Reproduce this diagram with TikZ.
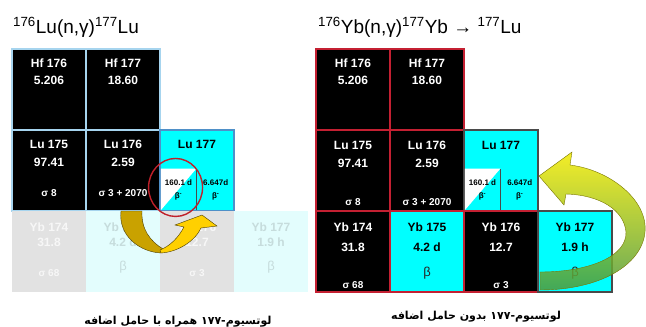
\documentclass[tikz,border=0pt]{standalone}
\usepackage{fontspec}
\setmainfont{Liberation Sans}
\newfontfamily\farsi[Script=Arabic]{DejaVu Sans}
\TeXXeTstate=1
\usetikzlibrary{positioning}
\definecolor{cellblue}{HTML}{A6D4EE}
\definecolor{lublue}{HTML}{4F90C8}
\definecolor{cellred}{HTML}{C42032}
\definecolor{edgegray}{HTML}{4A4A4A}
\definecolor{nuccyan}{HTML}{00FFFF}
\definecolor{fadegray}{HTML}{E2E2E2}
\definecolor{fadecyan}{HTML}{E3FDFD}
\definecolor{fadetext}{HTML}{C6DCDC}
\definecolor{ringred}{HTML}{C0202A}
\definecolor{golddark}{HTML}{C9A200}
\definecolor{goldlight}{HTML}{FFD000}
\definecolor{arrowedge}{HTML}{4A3C00}
\definecolor{arrowyel}{HTML}{F2EA00}
\definecolor{arrowgrn}{HTML}{4E9A3C}
\tikzset{
    %Define style for the chart cells
    nuc/.style={
           rectangle,
           minimum width=74pt,
           minimum height=81pt,
           inner sep=0pt,
           outer sep=0pt,
           line width=1.2pt},
    blackL/.style={nuc, fill=black, draw=cellblue},
    cyanL/.style={nuc, fill=nuccyan, draw=lublue},
    fgrayL/.style={nuc, fill=fadegray},
    fcyanL/.style={nuc, fill=fadecyan},
    blackR/.style={nuc, fill=black, draw=cellred},
    cyanR/.style={nuc, fill=nuccyan, draw=cellred},
    %Define style for the cell texts
    big/.style={align=center, inner sep=0pt,
           font=\fontsize{12}{18}\selectfont\bfseries},
    wbig/.style={big, text=white},
    kbig/.style={big, text=black},
    gbig/.style={big, text=white!97!black},
    fbig/.style={big, text=fadetext},
    wsig/.style={inner sep=0pt, text=white,
           font=\fontsize{10}{12}\selectfont\bfseries},
    gsig/.style={wsig, text=white!97!black},
    kbeta/.style={inner sep=0pt, text=black!85,
           font=\fontsize{13}{15}\selectfont},
    fbeta/.style={kbeta, text=fadetext},
    %Define style for the split Lu 177 box
    subbox/.style={
           rectangle,
           minimum width=35.5pt,
           minimum height=41.5pt,
           inner sep=0pt,
           fill=nuccyan,
           align=center,
           font=\fontsize{8}{13}\selectfont\bfseries,
           path picture={\fill[white] (path picture bounding box.north west)
               -- (path picture bounding box.north east)
               -- (path picture bounding box.south west) -- cycle;}},
    subcol/.style={
           rectangle,
           minimum width=38pt,
           minimum height=41.5pt,
           inner sep=0pt,
           align=center,
           font=\fontsize{8}{13}\selectfont\bfseries},
    subline/.style={draw=edgegray, line width=0.8pt},
    ring/.style={draw=ringred, line width=1.4pt},
    %Define style for the curved arrows
    darkswoosh/.style={fill=golddark, draw=arrowedge, line width=0.4pt},
    lightswoosh/.style={fill=goldlight, draw=arrowedge, line width=0.4pt},
    bigswoosh/.style={top color=arrowyel, bottom color=arrowgrn,
           fill opacity=0.85, draw=arrowyel!50!black, line width=0.4pt},
    ttl/.style={inner sep=0pt, font=\fontsize{19}{21}\selectfont},
    farsicap/.style={inner sep=0pt, font=\farsi\bfseries\fontsize{11}{13}\selectfont}
}
\begin{document}
\begin{tikzpicture}[x=1pt, y=-1pt]
 \useasboundingbox (0,0) rectangle (646,327);

 % left chart
 \node[blackL] (hf176L) at (49,89.5) {};
 \node[blackL, right=0pt of hf176L] (hf177L) {};
 \node[blackL, below=0pt of hf176L] (lu175L) {};
 \node[blackL, right=0pt of lu175L] (lu176L) {};
 \node[cyanL, right=0pt of lu176L] (lu177L) {};
 \node[fgrayL, below=0pt of lu175L] (yb174L) {};
 \node[fcyanL, right=0pt of yb174L] (yb175L) {};
 \node[fgrayL, right=0pt of yb175L] (yb176L) {};
 \node[fcyanL, right=0pt of yb176L] (yb177L) {};

 \node[ttl, anchor=base west] (ttlL) at ([shift={(1pt,16pt)}]hf176L.north west)
   {\textsuperscript{176}Lu(n,γ)\textsuperscript{177}Lu};

 \node[wbig, below=9.5pt of hf176L.north] {Hf 176\\[-1pt]5.206};
 \node[wbig, below=9.5pt of hf177L.north] {Hf 177\\[-1pt]18.60};
 \node[wbig, below=10pt of lu175L.north] {Lu 175\\97.41};
 \node[wbig, below=10pt of lu176L.north] {Lu 176\\2.59};
 \node[kbig, below=10pt of lu177L.north] {Lu 177};
 \node[wsig, above=14.5pt of lu175L.south] {σ 8};
 \node[wsig, above=14.5pt of lu176L.south] {σ 3 + 2070};
 \node[gbig, below=12pt of yb174L.north] {Yb 174\\[-3pt]31.8};
 \node[fbig, below=12pt of yb175L.north] {Yb 175\\[-3pt]4.2 d};
 \node[gbig, below=12pt of yb176L.north] {Yb 176\\[-3pt]12.7};
 \node[fbig, below=12pt of yb177L.north] {Yb 177\\[-3pt]1.9 h};
 \node[gsig, above=15.5pt of yb174L.south] {σ 68};
 \node[gsig, above=15.5pt of yb176L.south] {σ 3};
 \node[fbeta, above=18.5pt of yb175L.south] {β};
 \node[fbeta, above=18.5pt of yb177L.south] {β};

 \node[subbox, anchor=south west] (m177L) at ([shift={(0.6pt,0.6pt)}]lu177L.south west)
   {160.1 d\\β\textsuperscript{-}};
 \node[subcol, right=0pt of m177L] (g177L) {6.647d\\β\textsuperscript{-}};
 \draw[subline] (m177L.north east) -- (m177L.south east);
 \draw[ring] ([shift={(-3pt,2pt)}]m177L.center) ellipse [x radius=27pt, y radius=29pt];

 \path[darkswoosh] (121,211) .. controls (118,236) and (140,252) .. (161,253)
   -- (163,249) .. controls (150,241) and (141,229) .. (142,211) -- cycle;
 \path[lightswoosh] (161,253) .. controls (178,252) and (195,241) .. (201,228)
   -- (217,226) -- (202,215) -- (175,225) -- (184,227)
   .. controls (178,238) and (170,246) .. (160,250) -- cycle;

 % right chart
 \node[blackR] (hf176R) at (353,89.5) {};
 \node[blackR, right=0pt of hf176R] (hf177R) {};
 \node[blackR, below=0pt of hf176R] (lu175R) {};
 \node[blackR, right=0pt of lu175R] (lu176R) {};
 \node[cyanR, draw=edgegray, right=0pt of lu176R] (lu177R) {};
 \node[blackR, below=0pt of lu175R] (yb174R) {};
 \node[cyanR, right=0pt of yb174R] (yb175R) {};
 \node[blackR, right=0pt of yb175R] (yb176R) {};
 \node[cyanR, draw=edgegray, right=0pt of yb176R] (yb177R) {};

 \node[ttl, anchor=base west] (ttlR) at ([shift={(2pt,16pt)}]hf176R.north west)
   {\textsuperscript{176}Yb(n,γ)\textsuperscript{177}Yb → \textsuperscript{177}Lu};

 \node[wbig, below=9.5pt of hf176R.north] {Hf 176\\[-1pt]5.206};
 \node[wbig, below=9.5pt of hf177R.north] {Hf 177\\[-1pt]18.60};
 \node[wbig, below=11pt of lu175R.north] {Lu 175\\97.41};
 \node[wbig, below=11pt of lu176R.north] {Lu 176\\2.59};
 \node[kbig, below=11pt of lu177R.north] {Lu 177};
 \node[wsig, above=5.5pt of lu175R.south] {σ 8};
 \node[wsig, above=5.5pt of lu176R.south] {σ 3 + 2070};
 \node[wbig, below=12pt of yb174R.north] {Yb 174\\[2pt]31.8};
 \node[kbig, below=12pt of yb175R.north] {Yb 175\\[2pt]4.2 d};
 \node[wbig, below=12pt of yb176R.north] {Yb 176\\[2pt]12.7};
 \node[kbig, below=12pt of yb177R.north] {Yb 177\\[2pt]1.9 h};
 \node[wsig, above=3.5pt of yb174R.south] {σ 68};
 \node[wsig, above=3.5pt of yb176R.south] {σ 3};
 \node[kbeta, above=12.5pt of yb175R.south] {β};
 \node[kbeta, above=12.5pt of yb177R.south] {β};

 \node[subbox, anchor=south west] (m177R) at ([shift={(0.6pt,0.6pt)}]lu177R.south west)
   {160.1 d\\β\textsuperscript{-}};
 \node[subcol, right=0pt of m177R] (g177R) {6.647d\\β\textsuperscript{-}};
 \draw[subline] (m177R.north east) -- (m177R.south east);

 \path[bigswoosh] (539,176) -- (572,152) -- (570,165)
   .. controls (610,170) and (648,200) .. (645,232)
   .. controls (642,265) and (600,290) .. (540,290) -- (540,272)
   .. controls (590,272) and (627,256) .. (626,232)
   .. controls (624,210) and (600,195) .. (566,194) -- (564,205) -- cycle;

 % captions
 \node[farsicap] (capL) at (178,322) {\beginR لوتسیوم-۱۷۷ همراه با حامل اضافه\endR};
 \node[farsicap] (capR) at (476,317) {\beginR لوتسیوم-۱۷۷ بدون حامل اضافه\endR};

\end{tikzpicture}
\end{document}
